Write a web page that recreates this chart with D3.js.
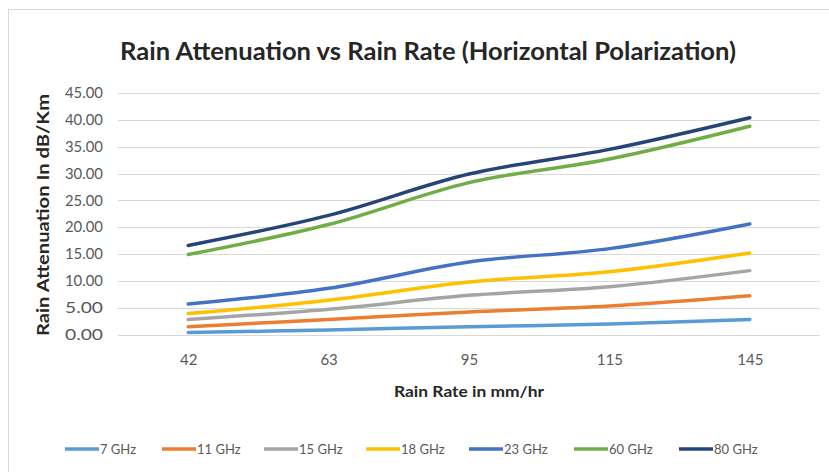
<!DOCTYPE html>
<html>
<head>
<meta charset="utf-8">
<script src="https://cdn.jsdelivr.net/npm/d3@7"></script>
<style>
  html, body { margin: 0; padding: 0; background: #fff; }
  svg { display: block; }
</style>
</head>
<body>
<svg id="chart" width="829" height="472"></svg>
<script>
// ---- data ----
const categories = ["42", "63", "95", "115", "145"];
const seriesNames = ["7 GHz", "11 GHz", "15 GHz", "18 GHz", "23 GHz", "60 GHz", "80 GHz"];
const s7GHz  = [0.35, 0.85, 1.45, 1.95, 2.8];
const s11GHz = [1.45, 2.8, 4.2, 5.3, 7.2];
const s15GHz = [2.8, 4.7, 7.3, 8.9, 11.9];
const s18GHz = [3.9, 6.4, 9.8, 11.7, 15.2];
const s23GHz = [5.7, 8.6, 13.5, 16.0, 20.6];
const s60GHz = [14.9, 20.5, 28.3, 32.7, 38.8];
const s80GHz = [16.6, 22.2, 29.9, 34.5, 40.4];
const seriesColors = ["#5B9BD5", "#ED7D31", "#A5A5A5", "#FFC000", "#4472C4", "#70AD47", "#264478"];
const yTicks = [0, 5, 10, 15, 20, 25, 30, 35, 40, 45];

const seriesValues = [s7GHz, s11GHz, s15GHz, s18GHz, s23GHz, s60GHz, s80GHz];
const series = seriesNames.map((name, i) => ({ name, color: seriesColors[i], values: seriesValues[i] }));

const svg = d3.select("#chart");
const font = "Lato, 'Open Sans', sans-serif";

// chart area border
svg.append("rect")
  .attr("x", 8.5).attr("y", 9.5).attr("width", 830).attr("height", 480)
  .attr("fill", "#fff").attr("stroke", "#D9D9D9").attr("stroke-width", 1);

const plot = { left: 118, right: 820, top: 93, bottom: 334.5 };

const x = d3.scalePoint().domain(categories).range([plot.left, plot.right]).padding(0.5);
const y = d3.scaleLinear().domain([0, 45]).range([plot.bottom, plot.top]);

// gridlines
svg.append("g").selectAll("line").data(yTicks).join("line")
  .attr("x1", plot.left).attr("x2", plot.right)
  .attr("y1", d => Math.round(y(d)) + 0.5).attr("y2", d => Math.round(y(d)) + 0.5)
  .attr("stroke", "#D9D9D9").attr("stroke-width", 1.2);

// y axis labels
const yAxis = d3.axisLeft(y).tickValues(yTicks).tickFormat(d3.format(".2f")).tickSize(0).tickPadding(0);
const gy = svg.append("g").attr("transform", `translate(103,0)`).call(yAxis);
gy.select(".domain").remove();
gy.selectAll("text").attr("fill", "#595959").style("font-family", font).style("font-size", "15px")
  .attr("textLength", 38).attr("lengthAdjust", "spacingAndGlyphs");

// x axis labels
const xAxis = d3.axisBottom(x).tickSize(0).tickPadding(0);
const gx = svg.append("g").attr("transform", `translate(0,354)`).call(xAxis);
gx.select(".domain").remove();
gx.selectAll("text").attr("fill", "#595959").style("font-family", font).style("font-size", "15px");

// lines
const line = d3.line()
  .x((d, i) => x(categories[i]))
  .y(d => y(d))
  .curve(d3.curveCatmullRom.alpha(0.5));

svg.append("g").selectAll("path").data(series).join("path")
  .attr("d", d => line(d.values))
  .attr("fill", "none")
  .attr("stroke", d => d.color)
  .attr("stroke-width", 3.5)
  .attr("stroke-linecap", "round")
  .attr("stroke-linejoin", "round");

// title
svg.append("text")
  .attr("x", 428).attr("y", 60)
  .attr("text-anchor", "middle")
  .attr("fill", "#262626")
  .attr("textLength", 616).attr("lengthAdjust", "spacingAndGlyphs")
  .style("font-family", font).style("font-weight", "bold").style("font-size", "25px")
  .text("Rain Attenuation vs Rain Rate (Horizontal Polarization)");

// axis titles
svg.append("text")
  .attr("transform", `translate(49,215) rotate(-90)`)
  .attr("text-anchor", "middle")
  .attr("fill", "#262626")
  .attr("textLength", 242).attr("lengthAdjust", "spacingAndGlyphs")
  .style("font-family", font).style("font-weight", "bold").style("font-size", "17px")
  .text("Rain Attenuation In dB/Km");

svg.append("text")
  .attr("x", 469).attr("y", 397)
  .attr("text-anchor", "middle")
  .attr("fill", "#262626")
  .attr("textLength", 150).attr("lengthAdjust", "spacingAndGlyphs")
  .style("font-family", font).style("font-weight", "bold").style("font-size", "16px")
  .text("Rain Rate in mm/hr");

// legend
const legendX = [65, 162, 264, 366, 469, 574, 679];
const lg = svg.append("g").selectAll("g").data(series).join("g")
  .attr("transform", (d, i) => `translate(${legendX[i]},449)`);
lg.append("line").attr("x1", 0).attr("x2", 34).attr("y1", 0).attr("y2", 0)
  .attr("stroke", d => d.color).attr("stroke-width", 3.5);
lg.append("text").attr("x", 35).attr("y", 5)
  .attr("fill", "#595959")
  .style("font-family", font).style("font-size", "13px")
  .text(d => d.name);
</script>
</body>
</html>
